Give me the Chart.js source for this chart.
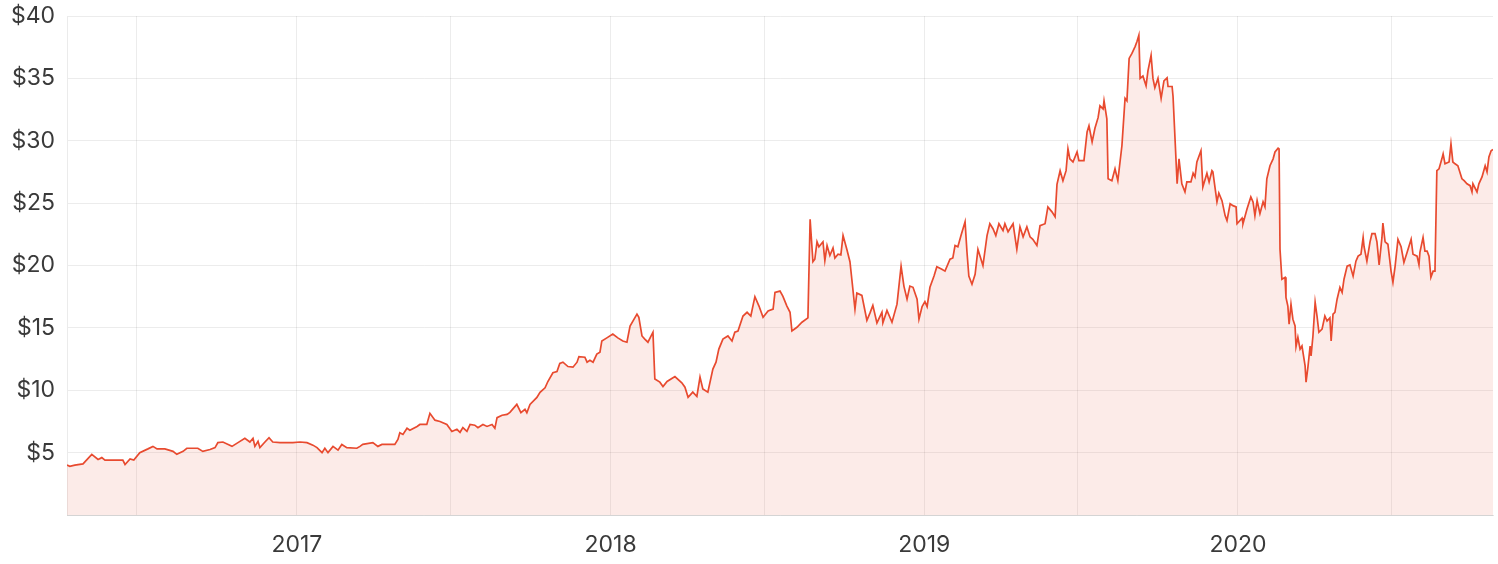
<!DOCTYPE html>
<html lang="en">
<head>
  <meta charset="UTF-8">
  <title>Share price</title>
  <style>
    html, body { margin: 0; padding: 0; background: #fff; }
  </style>
</head>
<body>

  <canvas id="priceChart" width="1498" height="564"></canvas>

  <script src="https://cdn.jsdelivr.net/npm/chart.js"></script>
  <script>
// trading dates as decimal years
const tradeYears = [
  // 2016
  2016.267,2016.276,2016.292,2016.318,2016.346,2016.366,2016.378,2016.388,2016.445,2016.452,
  2016.468,2016.480,2016.499,2016.525,2016.541,2016.554,2016.579,2016.605,2016.617,2016.637,
  2016.649,2016.684,2016.700,2016.723,2016.739,2016.748,2016.764,2016.793,2016.812,2016.834,
  2016.850,2016.860,2016.866,2016.876,2016.882,2016.898,2016.911,2016.923,2016.946,2016.968,
  2016.987,
  // 2017
  2017.010,2017.032,2017.051,2017.064,2017.080,2017.089,2017.099,2017.115,2017.131,2017.143,
  2017.159,2017.191,2017.201,2017.210,2017.242,2017.258,2017.271,2017.312,2017.322,2017.328,
  2017.338,2017.351,2017.360,2017.383,2017.392,2017.414,2017.424,2017.440,2017.456,2017.478,
  2017.494,2017.510,2017.520,2017.529,2017.542,2017.552,2017.567,2017.577,2017.593,2017.606,
  2017.622,2017.631,2017.638,2017.654,2017.670,2017.679,2017.701,2017.714,2017.727,2017.733,
  2017.743,2017.765,2017.775,2017.791,2017.800,2017.816,2017.829,2017.838,2017.848,2017.864,
  2017.880,2017.893,2017.899,2017.918,2017.925,2017.934,2017.944,2017.956,2017.966,2017.972,
  2017.988,
  // 2018
  2018.007,2018.023,2018.039,2018.052,2018.062,2018.084,2018.090,2018.100,2018.109,2018.119,
  2018.135,2018.141,2018.157,2018.167,2018.180,2018.205,2018.227,2018.237,2018.247,2018.262,
  2018.275,2018.285,2018.294,2018.310,2018.326,2018.336,2018.345,2018.358,2018.374,2018.387,
  2018.396,2018.406,2018.422,2018.435,2018.447,2018.460,2018.473,2018.486,2018.502,2018.518,
  2018.524,2018.540,2018.549,2018.562,2018.572,2018.578,2018.594,2018.610,2018.629,2018.636,
  2018.645,2018.651,2018.658,2018.664,2018.677,2018.683,2018.690,2018.699,2018.709,2018.715,
  2018.725,2018.734,2018.741,2018.753,2018.763,2018.769,2018.779,2018.785,2018.801,2018.811,
  2018.817,2018.827,2018.836,2018.849,2018.865,2018.868,2018.881,2018.897,2018.913,2018.926,
  2018.935,2018.945,2018.954,2018.964,2018.977,2018.983,2018.993,
  // 2019
  2019.002,2019.009,2019.018,2019.031,2019.040,2019.056,2019.066,2019.082,2019.091,2019.098,
  2019.107,2019.117,2019.130,2019.136,2019.142,2019.152,2019.162,2019.171,2019.187,2019.200,
  2019.209,2019.219,2019.228,2019.238,2019.251,2019.257,2019.267,2019.283,2019.295,2019.305,
  2019.315,2019.327,2019.337,2019.346,2019.359,2019.369,2019.385,2019.394,2019.407,2019.417,
  2019.423,2019.433,2019.442,2019.452,2019.458,2019.464,2019.474,2019.487,2019.493,2019.509,
  2019.519,2019.525,2019.535,2019.544,2019.554,2019.560,2019.570,2019.573,2019.582,2019.586,
  2019.598,2019.608,2019.617,2019.630,2019.640,2019.646,2019.653,2019.662,2019.672,2019.678,
  2019.684,2019.688,2019.697,2019.707,2019.713,2019.723,2019.729,2019.735,2019.745,2019.755,
  2019.764,2019.774,2019.777,2019.790,2019.793,2019.806,2019.812,2019.821,2019.831,2019.837,
  2019.850,2019.857,2019.863,2019.869,2019.882,2019.888,2019.901,2019.908,2019.917,2019.920,
  2019.933,2019.939,2019.949,2019.959,2019.965,2019.975,2019.984,2019.994,2019.997,
  // 2020
  2020.013,2020.016,2020.029,2020.041,2020.048,2020.054,2020.061,2020.070,2020.080,2020.086,
  2020.092,2020.102,2020.112,2020.118,2020.128,2020.131,2020.134,2020.140,2020.150,2020.153,
  2020.159,2020.163,2020.169,2020.175,2020.182,2020.185,2020.191,2020.198,2020.204,2020.214,
  2020.217,2020.223,2020.230,2020.233,2020.239,2020.246,2020.252,2020.258,2020.268,2020.277,
  2020.284,2020.293,2020.297,2020.303,2020.309,2020.316,2020.325,2020.332,2020.338,2020.348,
  2020.357,2020.367,2020.376,2020.383,2020.392,2020.399,2020.402,2020.411,2020.421,2020.427,
  2020.437,2020.443,2020.450,2020.459,2020.462,2020.469,2020.478,2020.488,2020.494,2020.501,
  2020.510,2020.520,2020.529,2020.539,2020.552,2020.558,2020.571,2020.577,2020.580,2020.590,
  2020.596,2020.603,2020.609,2020.615,2020.622,2020.628,2020.634,2020.641,2020.650,2020.654,
  2020.660,2020.673,2020.679,2020.685,2020.692,2020.701,2020.714,2020.721,2020.730,2020.740,
  2020.746,2020.749,2020.762,2020.768,2020.778,2020.788,2020.794,2020.800,2020.807,2020.813
];

// close price in $
const closePrices = [
  // 2016
  4.0,3.9,4.0,4.1,4.86,4.45,4.6,4.4,4.4,4.05,
  4.5,4.4,5.0,5.3,5.5,5.3,5.3,5.1,4.86,5.1,
  5.35,5.35,5.1,5.25,5.4,5.8,5.85,5.5,5.8,6.15,
  5.85,6.15,5.5,5.9,5.4,5.85,6.2,5.85,5.8,5.8,
  5.8,
  // 2017
  5.85,5.8,5.6,5.4,5.0,5.35,5.0,5.5,5.2,5.65,
  5.4,5.35,5.5,5.66,5.8,5.5,5.66,5.66,6.06,6.6,
  6.46,6.95,6.8,7.1,7.26,7.26,8.15,7.6,7.5,7.26,
  6.7,6.87,6.63,7.0,6.7,7.26,7.2,7.0,7.26,7.1,
  7.26,6.95,7.8,8.0,8.07,8.23,8.87,8.2,8.47,8.2,
  8.87,9.43,9.83,10.2,10.7,11.4,11.5,12.15,12.25,11.9,
  11.85,12.25,12.7,12.65,12.25,12.4,12.25,12.9,13.05,13.95,
  14.2,
  // 2018
  14.5,14.2,13.95,13.85,15.15,16.1,15.85,14.35,14.1,13.85,
  14.65,10.9,10.65,10.3,10.7,11.1,10.6,10.25,9.43,9.85,
  9.5,11.05,10.1,9.85,11.7,12.25,13.3,14.1,14.35,13.95,
  14.65,14.75,15.95,16.25,15.95,17.5,16.75,15.85,16.35,16.5,
  17.85,17.95,17.55,16.75,16.25,14.75,15.05,15.45,15.8,23.7,
  20.3,20.5,21.9,21.5,21.9,20.4,21.6,20.8,21.4,20.6,
  20.9,20.85,22.4,21.3,20.3,18.9,16.5,17.8,17.6,16.35,
  15.6,16.2,16.8,15.4,16.25,15.4,16.4,15.45,16.9,19.95,
  18.35,17.3,18.35,18.25,17.3,15.7,16.7,
  // 2019
  17.1,16.7,18.25,19.15,19.9,19.7,19.55,20.5,20.6,21.6,
  21.5,22.4,23.5,21.1,19.15,18.5,19.3,21.3,20.0,22.4,
  23.35,22.95,22.4,23.35,22.8,23.35,22.7,23.35,21.3,23.1,
  22.3,23.1,22.3,22.1,21.6,23.2,23.35,24.7,24.3,23.9,
  26.5,27.6,26.8,27.6,29.35,28.55,28.3,29.1,28.4,28.4,
  30.7,31.2,29.9,31.0,31.85,32.8,32.55,33.2,31.75,26.95,
  26.8,27.75,26.8,29.6,33.4,33.2,36.6,37.0,37.55,37.95,
  38.45,35.0,35.2,34.4,35.6,36.85,35.0,34.25,35.0,33.4,
  34.8,35.05,34.35,34.35,33.55,26.55,28.55,26.55,25.9,26.7,
  26.7,27.4,27.1,28.3,29.2,26.3,27.4,26.7,27.6,27.5,
  25.1,25.8,25.2,24.0,23.6,24.95,24.8,24.7,23.35,
  // 2020
  23.8,23.35,24.55,25.5,25.1,24.0,25.2,24.15,25.1,24.7,
  26.95,28.0,28.55,29.1,29.4,29.35,21.3,18.9,19.05,17.45,
  16.75,15.3,16.9,15.7,15.15,13.5,14.25,13.3,13.55,11.95,
  10.65,11.85,13.55,12.75,14.35,17.05,15.95,14.65,14.9,15.95,
  15.55,15.8,13.95,16.1,16.25,17.3,18.25,17.85,18.9,19.95,
  20.05,19.15,20.35,20.75,20.9,22.25,21.5,20.35,21.9,22.55,
  22.55,21.9,20.05,22.25,23.4,21.9,21.7,19.55,18.65,19.95,
  22.1,21.5,20.25,21.05,22.1,20.9,20.75,20.05,21.05,22.25,
  21.15,21.15,20.75,19.05,19.55,19.55,27.6,27.75,28.55,28.95,
  28.15,28.3,29.75,28.3,28.15,28.0,26.95,26.8,26.55,26.4,
  25.9,26.55,25.9,26.55,27.1,28.0,27.5,28.7,29.2,29.3
];

// x grid every half year, labels only on the year
const xTickValues = [2016.49, 2017, 2017.49, 2018, 2018.49, 2019, 2019.49, 2020, 2020.49];
const xTickLabels = ['', '2017', '', '2018', '', '2019', '', '2020', ''];
const yTickValues = [0, 5, 10, 15, 20, 25, 30, 35, 40];

const tickFont = { family: 'Inter, "Open Sans", sans-serif', size: 23 };
const tickColor = '#3a3a3a';
const gridColor = 'rgba(0, 0, 0, 0.075)';

const ctx = document.getElementById('priceChart').getContext('2d');

new Chart(ctx, {
  type: 'line',
  data: {
    datasets: [{
      data: tradeYears.map((x, i) => ({ x: x, y: closePrices[i] })),
      borderColor: '#e84a2f',
      backgroundColor: 'rgba(232, 74, 47, 0.11)',
      borderWidth: 1.7,
      pointRadius: 0,
      tension: 0,
      fill: 'start'
    }]
  },
  options: {
    responsive: false,
    animation: false,
    layout: { padding: { top: 16, right: 5, left: 0, bottom: 0 } },
    plugins: {
      legend: { display: false },
      tooltip: { enabled: false }
    },
    scales: {
      x: {
        type: 'linear',
        min: tradeYears[0],
        max: tradeYears[tradeYears.length - 1],
        afterBuildTicks: (scale) => {
          scale.ticks = xTickValues.map(v => ({ value: v }));
        },
        afterFit: (scale) => {
          scale.height = 49;
          scale.paddingLeft = 0;
          scale.paddingRight = 0;
        },
        grid: { color: gridColor, drawTicks: false },
        border: { color: 'rgba(0, 0, 0, 0.1)' },
        ticks: {
          autoSkip: false,
          maxRotation: 0,
          padding: 16,
          font: tickFont,
          color: tickColor,
          callback: (value, index) => xTickLabels[index]
        }
      },
      y: {
        min: 0,
        max: 40,
        afterBuildTicks: (scale) => {
          scale.ticks = yTickValues.map(v => ({ value: v }));
        },
        afterFit: (scale) => {
          // keep the plot area at a fixed spot
          scale.width = 67;
          scale.paddingTop = 0;
          scale.paddingBottom = 0;
        },
        grid: { color: gridColor, drawTicks: false },
        border: { color: 'rgba(0, 0, 0, 0.08)' },
        ticks: {
          padding: 12,
          font: tickFont,
          color: tickColor,
          callback: (value) => value === 0 ? '' : '$' + value
        }
      }
    }
  }
});
  </script>

</body>
</html>
